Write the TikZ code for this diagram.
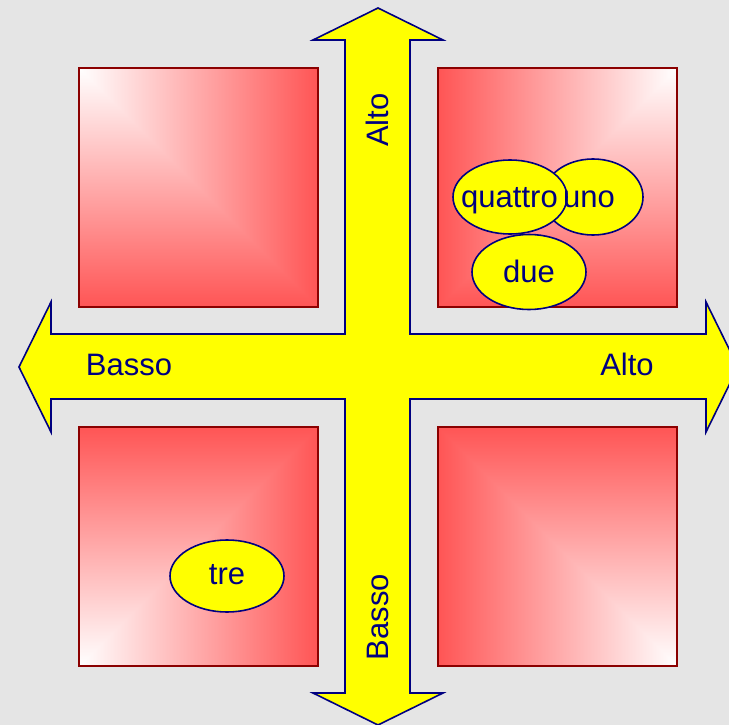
\documentclass[tikz,border=0pt]{standalone}
\usepackage{fontspec}
\setmainfont{Liberation Sans}
\usetikzlibrary{shapes.geometric}
\pgfdeclarefunctionalshading{cornTL}{\pgfpoint{0bp}{0bp}}{\pgfpoint{100bp}{100bp}}{}{
75 exch sub 50 div exch 25 sub 50 div 2 copy lt {exch} if pop dup 0 lt {pop 0} if dup 1 gt {pop 1} if 0.667 mul 1 exch sub 1 exch dup
}
\pgfdeclarefunctionalshading{cornTR}{\pgfpoint{0bp}{0bp}}{\pgfpoint{100bp}{100bp}}{}{
75 exch sub 50 div exch 75 exch sub 50 div 2 copy lt {exch} if pop dup 0 lt {pop 0} if dup 1 gt {pop 1} if 0.667 mul 1 exch sub 1 exch dup
}
\pgfdeclarefunctionalshading{cornBL}{\pgfpoint{0bp}{0bp}}{\pgfpoint{100bp}{100bp}}{}{
25 sub 50 div exch 25 sub 50 div 2 copy lt {exch} if pop dup 0 lt {pop 0} if dup 1 gt {pop 1} if 0.667 mul 1 exch sub 1 exch dup
}
\pgfdeclarefunctionalshading{cornBR}{\pgfpoint{0bp}{0bp}}{\pgfpoint{100bp}{100bp}}{}{
25 sub 50 div exch 75 exch sub 50 div 2 copy lt {exch} if pop dup 0 lt {pop 0} if dup 1 gt {pop 1} if 0.667 mul 1 exch sub 1 exch dup
}
\definecolor{bg}{RGB}{229,229,229}
\definecolor{navyb}{RGB}{0,0,128}
\definecolor{sqline}{RGB}{139,0,0}
\definecolor{yel}{RGB}{255,255,0}
\tikzset{
  sq/.style={draw=sqline, line width=1.4pt},
  crossarrow/.style={draw=navyb, fill=yel, line width=1.6pt, line join=miter},
  lbl/.style={text=navyb, font=\fontsize{31}{36}\selectfont, inner sep=0pt},
  blob/.style={ellipse, draw=navyb, fill=yel, line width=1.6pt, inner sep=0pt}
}
\begin{document}
\begin{tikzpicture}[x=1pt,y=-1pt]
\fill[bg] (0,0) rectangle (729,725);
\useasboundingbox (0,0) rectangle (729,725);
% squares
\path[sq, shading=cornTL] (79,68) rectangle (318,307);
\path[sq, shading=cornTR] (438,68) rectangle (677,307);
\path[sq, shading=cornBL] (79,427) rectangle (318,666);
\path[sq, shading=cornBR] (438,427) rectangle (677,666);
% cross of double arrows
\path[crossarrow] (378,8) -- (443,40) -- (410,40) -- (410,334) -- (706,334) -- (706,302)
  -- (738,367) -- (706,432) -- (706,399) -- (410,399) -- (410,693) -- (443,693)
  -- (378,725) -- (313,693) -- (345,693) -- (345,399) -- (51,399) -- (51,432)
  -- (19,367) -- (51,302) -- (51,334) -- (345,334) -- (345,40) -- (313,40) -- cycle;
% axis labels
\node[lbl, rotate=90, anchor=base] (altoV) at (388,120) {Alto};
\node[lbl, rotate=90, anchor=base] (bassoV) at (388,617) {Basso};
\node[lbl, anchor=base] (bassoH) at (129,375) {Basso};
\node[lbl, anchor=base] (altoH) at (627,375) {Alto};
% ellipses
\node[blob, minimum width=100pt, minimum height=76pt] (uno) at (593,197) {};
\node[blob, minimum width=114pt, minimum height=74pt] (quattro) at (510,197) {};
\node[blob, minimum width=114pt, minimum height=75pt] (due) at (529,272) {};
\node[blob, minimum width=114pt, minimum height=72pt] (tre) at (227,576) {};
\node[lbl, anchor=base] (quattrotext) at (509.5,207) {quattro};
\node[lbl, anchor=base] (unotext) at (589,207) {uno};
\node[lbl, anchor=base] (duetext) at (529,282) {due};
\node[lbl, anchor=base] (tretext) at (227,584) {tre};
\end{tikzpicture}
\end{document}
